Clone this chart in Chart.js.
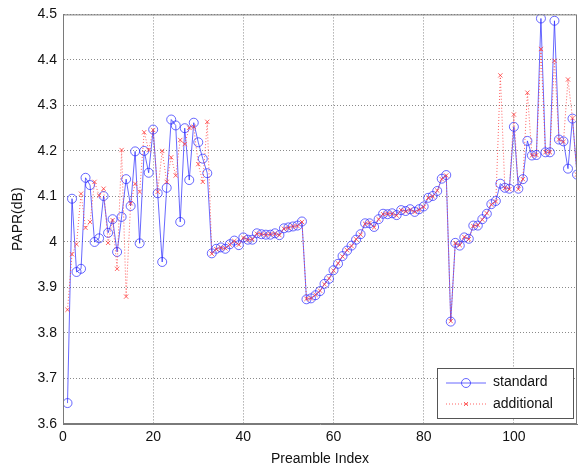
<!DOCTYPE html>
<html>
<head>
<meta charset="utf-8">
<script src="https://cdn.jsdelivr.net/npm/chart.js@4.4.1/dist/chart.umd.min.js"></script>
<style>
  html, body { margin: 0; padding: 0; background: #fff; }
  #wrap { width: 584px; height: 468px; position: relative; }
</style>
</head>
<body>
<div id="wrap"><canvas id="chart"></canvas></div>
<script>
// PAPR per preamble index
const standard = [
    3.646, 4.095, 3.934, 3.941, 4.141, 4.125, 4.000, 4.008, 4.101, 4.020,
    4.050, 3.978, 4.055, 4.138, 4.079, 4.199, 3.997, 4.200, 4.152, 4.247,
    4.107, 3.956, 4.119, 4.269, 4.256, 4.044, 4.250, 4.136, 4.262, 4.219,
    4.183, 4.151, 3.975, 3.985, 3.988, 3.985, 3.995, 4.003, 3.993, 4.010,
    4.005, 4.005, 4.019, 4.017, 4.016, 4.016, 4.019, 4.015, 4.030, 4.032,
    4.034, 4.036, 4.045, 3.874, 3.876, 3.883, 3.892, 3.908, 3.919, 3.938,
    3.952, 3.969, 3.981, 3.992, 4.005, 4.017, 4.041, 4.041, 4.033, 4.050,
    4.062, 4.061, 4.063, 4.059, 4.070, 4.068, 4.072, 4.066, 4.072, 4.078,
    4.097, 4.101, 4.112, 4.139, 4.147, 3.825, 3.998, 3.992, 4.010, 4.007,
    4.036, 4.036, 4.050, 4.062, 4.083, 4.090, 4.128, 4.119, 4.117, 4.253,
    4.117, 4.138, 4.222, 4.190, 4.191, 4.491, 4.197, 4.197, 4.486, 4.225,
    4.221, 4.161, 4.271, 4.148
];

const additional = [
    3.851, 3.973, 3.995, 4.106, 4.031, 4.044, 4.132, 4.102, 4.117, 3.998,
    4.048, 3.941, 4.202, 3.880, 4.085, 4.128, 4.110, 4.241, 4.202, 4.246,
    4.110, 4.200, 4.132, 4.186, 4.146, 4.224, 4.215, 4.251, 4.253, 4.171,
    4.132, 4.264, 3.974, 3.984, 3.987, 3.986, 3.994, 4.002, 3.994, 4.009,
    4.005, 4.006, 4.018, 4.017, 4.016, 4.017, 4.018, 4.015, 4.029, 4.031,
    4.034, 4.035, 4.044, 3.875, 3.876, 3.884, 3.893, 3.907, 3.920, 3.937,
    3.953, 3.968, 3.982, 3.991, 4.006, 4.016, 4.040, 4.042, 4.032, 4.050,
    4.061, 4.062, 4.062, 4.058, 4.070, 4.067, 4.071, 4.066, 4.071, 4.077,
    4.097, 4.100, 4.113, 4.138, 4.146, 3.826, 3.997, 3.993, 4.011, 4.006,
    4.035, 4.037, 4.049, 4.063, 4.082, 4.089, 4.366, 4.118, 4.116, 4.280,
    4.116, 4.138, 4.328, 4.190, 4.191, 4.424, 4.197, 4.197, 4.398, 4.225,
    4.220, 4.357, 4.272, 4.148
];

const seriesNames = ['standard', 'additional'];
const xTicks = [0, 20, 40, 60, 80, 100];
const yMin = 3.6, yMax = 4.5, xMin = 0, xMax = 114;

const BLUE = 'rgba(40, 40, 255, 0.7)';
const RED = 'rgba(255, 60, 60, 0.8)';
const FONT = 'Liberation Sans, Arial, sans-serif';

const toPoints = arr => arr.map((v, i) => ({ x: i + 1, y: v }));

// frame around the plot + legend box in the lower right, matlab style
const framePlugin = {
    id: 'frame',
    afterDraw(chart) {
        const { ctx, chartArea: a } = chart;
        ctx.save();
        ctx.strokeStyle = '#7a7a7a';
        ctx.lineWidth = 1;
        ctx.setLineDash([]);
        ctx.strokeRect(a.left + 0.5, a.top + 0.5, a.right - a.left - 1, a.bottom - a.top - 1);

        const bx = 437, by = 368, bw = 136, bh = 50;
        ctx.fillStyle = '#fff';
        ctx.fillRect(bx, by, bw, bh);
        ctx.strokeStyle = '#555';
        ctx.strokeRect(bx + 0.5, by + 0.5, bw, bh);

        // standard
        let y = by + 15;
        ctx.strokeStyle = BLUE;
        ctx.beginPath();
        ctx.moveTo(bx + 9, y);
        ctx.lineTo(bx + 49, y);
        ctx.stroke();
        ctx.beginPath();
        ctx.arc(bx + 29, y, 4.5, 0, Math.PI * 2);
        ctx.stroke();

        // additional
        y = by + 36;
        ctx.strokeStyle = RED;
        ctx.setLineDash([1, 2]);
        ctx.beginPath();
        ctx.moveTo(bx + 9, y);
        ctx.lineTo(bx + 49, y);
        ctx.stroke();
        ctx.setLineDash([]);
        ctx.beginPath();
        ctx.moveTo(bx + 27, y - 2); ctx.lineTo(bx + 31, y + 2);
        ctx.moveTo(bx + 31, y - 2); ctx.lineTo(bx + 27, y + 2);
        ctx.stroke();

        ctx.fillStyle = '#111';
        ctx.font = '14px ' + FONT;
        ctx.textBaseline = 'middle';
        ctx.textAlign = 'left';
        ctx.fillText(seriesNames[0], bx + 56, by + 14);
        ctx.fillText(seriesNames[1], bx + 56, by + 36);
        ctx.restore();
    }
};

new Chart(document.getElementById('chart'), {
    type: 'line',
    data: {
        datasets: [{
            label: seriesNames[0],
            data: toPoints(standard),
            borderColor: BLUE,
            backgroundColor: 'transparent',
            borderWidth: 1,
            pointStyle: 'circle',
            pointRadius: 4.5,
            pointBorderWidth: 1,
            pointBorderColor: BLUE,
            pointBackgroundColor: 'transparent',
            tension: 0,
            order: 1
        }, {
            label: seriesNames[1],
            data: toPoints(additional),
            borderColor: RED,
            backgroundColor: 'transparent',
            borderWidth: 1,
            borderDash: [1, 2],
            pointStyle: 'crossRot',
            pointRadius: 3,
            pointBorderWidth: 1,
            pointBorderColor: RED,
            tension: 0,
            order: 0
        }]
    },
    options: {
        responsive: true,
        maintainAspectRatio: false,
        animation: false,
        events: [],
        layout: { padding: { left: 0, right: 7, top: 8, bottom: 0 } },
        scales: {
            x: {
                type: 'linear',
                min: xMin,
                max: xMax,
                afterBuildTicks: scale => {
                    scale.ticks = xTicks.map(v => ({ value: v }));
                },
                afterFit: scale => { scale.height = 44; },
                grid: {
                    color: '#8a8a8a',
                    lineWidth: 1,
                    drawTicks: false
                },
                border: { display: true, color: '#7a7a7a', dash: [1, 2] },
                ticks: {
                    color: '#111',
                    font: { family: FONT, size: 14 },
                    padding: 5,
                    maxRotation: 0
                },
                title: {
                    display: true,
                    text: 'Preamble Index',
                    color: '#111',
                    font: { family: FONT, size: 14 },
                    padding: { top: 1, bottom: 0 }
                }
            },
            y: {
                min: yMin,
                max: yMax,
                afterFit: scale => { scale.width = 63; },
                grid: {
                    color: '#8a8a8a',
                    lineWidth: 1,
                    drawTicks: false
                },
                border: { display: true, color: '#7a7a7a', dash: [1, 2] },
                ticks: {
                    stepSize: 0.1,
                    color: '#111',
                    font: { family: FONT, size: 14 },
                    padding: 6,
                    callback: v => String(Number(v.toFixed(1)))
                },
                title: {
                    display: true,
                    text: 'PAPR(dB)',
                    color: '#111',
                    font: { family: FONT, size: 14 },
                    padding: { top: 10, bottom: 2 }
                }
            }
        },
        plugins: {
            legend: { display: false },
            tooltip: { enabled: false }
        }
    },
    plugins: [framePlugin]
});
</script>
</body>
</html>
